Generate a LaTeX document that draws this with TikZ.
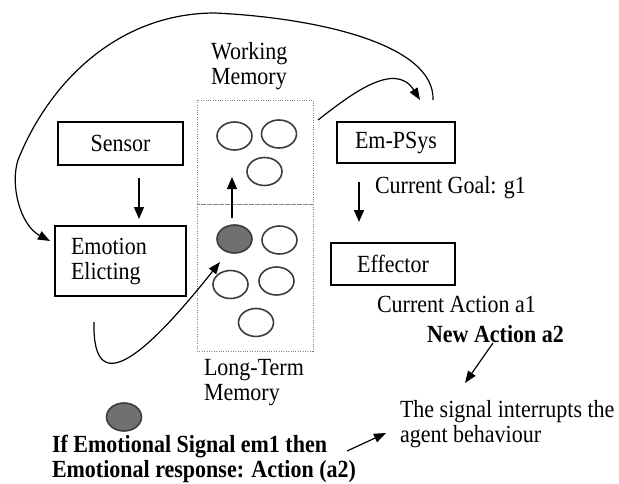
\documentclass[tikz,border=0pt]{standalone}
\usepackage{fontspec}
\usepackage{graphicx}
\setmainfont{Liberation Serif}
\usetikzlibrary{arrows.meta,shapes.geometric}
\newcommand{\tallline}[1]{\scalebox{1}[1.12]{#1}}
\definecolor{ringc}{RGB}{60,60,60}
\definecolor{signalfill}{RGB}{112,112,112}
\definecolor{dotc}{RGB}{130,130,130}
\tikzset{
  txt/.style={font=\fontsize{22}{25}\selectfont, inner sep=0pt, outer sep=0pt},
  boxnode/.style={draw, line width=1.3pt, txt},
  membox/.style={draw=dotc, line width=0.8pt, dash pattern=on 1pt off 1.4pt, inner sep=0pt},
  ring/.style={ellipse, draw=ringc, line width=1.6pt, minimum width=35pt, minimum height=28pt, inner sep=0pt},
  darkring/.style={ring, fill=signalfill},
  arr/.style={line width=1.3pt, -{Triangle[length=12pt,width=10pt]}},
  carr/.style={line width=1.2pt, -{Triangle[length=12pt,width=9pt]}},
}
\begin{document}
\begin{tikzpicture}[x=1pt,y=-1pt]
\path[use as bounding box] (0,0) rectangle (619,483);

% boxes
\node[boxnode, minimum width=125pt, minimum height=43pt] (sensor) at (120.5,143.5) {\tallline{Sensor}};
\node[boxnode, minimum width=131pt, minimum height=70pt, text width=99pt, align=left] (emo) at (120.5,261) {\tallline{Emotion}\\\tallline{Elicting}};
\node[boxnode, minimum width=118pt, minimum height=41pt] (empsys) at (396,142.5) {\tallline{Em-PSys}};
\node[boxnode, minimum width=124pt, minimum height=42pt] (effector) at (393,264) {\tallline{Effector}};

% memory boxes
\node[membox, minimum width=116pt, minimum height=104pt] (wm) at (255,152) {};
\node[membox, minimum width=116pt, minimum height=147pt] (ltm) at (255,277.5) {};

% rings
\node[ring] (w1) at (234.5,136) {};
\node[ring] (w2) at (279,134) {};
\node[ring] (w3) at (264.5,171.5) {};
\node[darkring] (l1) at (234.5,239) {};
\node[ring] (l2) at (279.5,240) {};
\node[ring] (l3) at (230.5,284.5) {};
\node[ring] (l4) at (276.5,281) {};
\node[ring] (l5) at (256,322.5) {};
\node[darkring] (sig) at (124,417) {};

% texts (base anchor = baseline of the last line)
\node[txt, anchor=base west, align=left] (wmlabel) at (211,84) {\tallline{Working}\\\tallline{Memory}};
\node[txt, anchor=base west, align=left] (ltmlabel) at (204,400) {\tallline{Long-Term}\\\tallline{Memory}};
\node[txt, anchor=base west] (goal) at (375,193) {\tallline{Current Goal: g1}};
\node[txt, anchor=base west] (act1) at (377,312) {\tallline{Current Action a1}};
\node[txt, anchor=base west, font=\fontsize{22}{25}\selectfont\bfseries] (act2) at (427,342) {\tallline{New Action a2}};
\node[txt, anchor=base west, align=left] (interrupt) at (400,442) {\tallline{The signal interrupts the}\\\tallline{agent behaviour}};
\node[txt, anchor=base west, align=left, font=\fontsize{22}{25}\selectfont\bfseries] (rule) at (52,477) {\tallline{If Emotional Signal em1 then}\\\tallline{Emotional response: Action (a2)}};

% connector end points
\coordinate (sA) at (139,178);
\coordinate (sB) at (139,219);
\coordinate (eA) at (359,182);
\coordinate (eB) at (359,222);
\coordinate (uA) at (232,218);
\coordinate (uB) at (232,177);
\coordinate (nA) at (493,343);
\coordinate (nB) at (465,383);
\coordinate (rA) at (347,451);
\coordinate (rB) at (386,433);
\coordinate (cA) at (318,120);
\coordinate (cB) at (420,100);
\coordinate (bA) at (433,100);
\coordinate (bB) at (50,241);
\coordinate (gA) at (94,322);
\coordinate (gB) at (220,262);

% straight arrows
\draw[arr] (sA) -- (sB);
\draw[arr] (eA) -- (eB);
\draw[arr] (uA) -- (uB);
\draw[carr] (nA) -- (nB);
\draw[carr] (rA) -- (rB);

% curved arrows
\draw[carr] (cA) .. controls (350,95) and (395,60) .. (cB);
\draw[carr] (bA) .. controls (435,45) and (320,18) .. (215,13)
  .. controls (120,13) and (50,80) .. (18,160)
  .. controls (10,185) and (20,225) .. (bB);
\draw[carr] (gA) .. controls (92,405) and (150,350) .. (gB);
\end{tikzpicture}
\end{document}
